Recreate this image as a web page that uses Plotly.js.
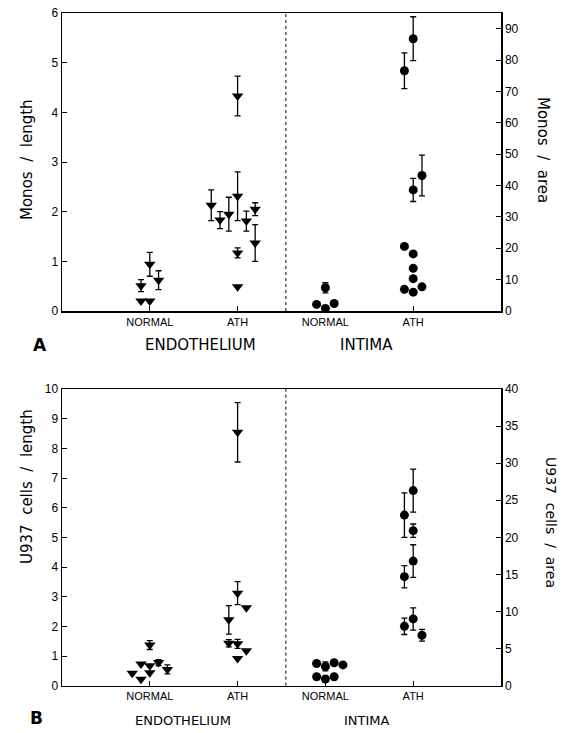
<!DOCTYPE html>
<html>
<head>
<meta charset="utf-8">
<script src="https://cdn.plot.ly/plotly-3.0.1.min.js"></script>
<style>html,body{margin:0;padding:0;background:#fff;}#chart{width:563px;height:733px;}</style>
</head>
<body>
<div id="chart"></div>
<script>
// ---- Category ticks ----
const tickPositions = [1, 2, 3, 4];
const tickLabels = ['NORMAL', 'ATH', 'NORMAL', 'ATH'];

// ---- Panel A: Monocytes, endothelium (Monos / length) ----
const endoA_x   = [0.9, 1.0, 1.1, 0.9, 1.0, 1.7, 1.8, 1.9, 2.0, 2.0, 2.0, 2.0, 2.1, 2.2, 2.2];
const endoA_y   = [0.51, 0.94, 0.62, 0.20, 0.20, 2.13, 1.83, 1.95, 2.31, 4.33, 1.17, 0.49, 1.81, 2.05, 1.37];
const endoA_err = [0.12, 0.24, 0.19, 0, 0, 0.31, 0.17, 0.34, 0.49, 0.40, 0.10, 0, 0.20, 0.13, 0.37];

// ---- Panel A: Monocytes, intima (Monos / area) ----
const intA_x   = [3.0, 2.9, 3.0, 3.1, 3.9, 4.0, 4.0, 4.1, 3.9, 4.0, 4.0, 4.0, 3.9, 4.0, 4.1];
const intA_y   = [7.4, 2.1, 0.8, 2.4, 76.6, 86.8, 38.6, 43.2, 20.6, 18.2, 13.6, 10.3, 6.9, 6.0, 7.7];
const intA_err = [1.6, 0, 0, 0, 5.7, 7.0, 3.7, 6.5, 0, 0, 0, 0, 0, 0, 0];

// ---- Panel B: U937 cells, endothelium (U937 cells / length) ----
const endoB_x   = [1.0, 0.9, 1.0, 1.1, 1.2, 0.8, 0.9, 1.0, 2.0, 2.0, 2.1, 1.9, 1.9, 2.0, 2.1, 2.0];
const endoB_y   = [1.37, 0.73, 0.67, 0.78, 0.55, 0.42, 0.22, 0.44, 8.54, 3.12, 2.63, 2.22, 1.43, 1.41, 1.18, 0.92];
const endoB_err = [0.15, 0, 0, 0.10, 0.15, 0, 0, 0, 1.0, 0.39, 0, 0.48, 0.12, 0.15, 0, 0];

// ---- Panel B: U937 cells, intima (U937 cells / area) ----
const intB_x   = [2.9, 3.0, 3.1, 3.2, 2.9, 3.0, 3.1, 3.9, 4.0, 4.0, 3.9, 4.0, 3.9, 4.0, 4.1];
const intB_y   = [3.0, 2.6, 3.1, 2.8, 1.2, 0.9, 1.2, 23.0, 26.3, 20.9, 14.7, 16.8, 8.0, 9.0, 6.8];
const intB_err = [0, 0.6, 0, 0, 0, 0, 0, 3.0, 2.9, 0.9, 1.5, 2.2, 1.1, 1.5, 0.8];

const W = 563, H = 733;
const px = v => v / W;
const py = v => 1 - v / H;

const errStyle = arr => ({type: 'data', array: arr, visible: true, color: '#000', thickness: 1.3, width: 3});

const traces = [
  {x: endoA_x, y: endoA_y, error_y: errStyle(endoA_err), xaxis: 'x', yaxis: 'y', mode: 'markers', type: 'scatter',
   marker: {symbol: 'triangle-down', size: 10, color: '#000'}},
  {x: intA_x, y: intA_y, error_y: errStyle(intA_err), xaxis: 'x', yaxis: 'y2', mode: 'markers', type: 'scatter',
   marker: {symbol: 'circle', size: 9, color: '#000'}},
  {x: endoB_x, y: endoB_y, error_y: errStyle(endoB_err), xaxis: 'x2', yaxis: 'y3', mode: 'markers', type: 'scatter',
   marker: {symbol: 'triangle-down', size: 10, color: '#000'}},
  {x: intB_x, y: intB_y, error_y: errStyle(intB_err), xaxis: 'x2', yaxis: 'y4', mode: 'markers', type: 'scatter',
   marker: {symbol: 'circle', size: 9, color: '#000'}}
];

const tickFont = {family: 'Liberation Sans, Arial, sans-serif', size: 12, color: '#000'};
const catFont = {family: 'Liberation Sans, Arial, sans-serif', size: 11, color: '#000'};
const xDom = [px(62), px(501)];
const axBase = {showline: true, linecolor: '#000', linewidth: 1.5, ticks: 'inside', ticklen: 5, tickcolor: '#000',
  showgrid: false, zeroline: false, fixedrange: true};

const ann = (text, x, y, size, angle) => ({
  text: text, x: px(x), y: py(y), xref: 'paper', yref: 'paper', xanchor: 'center', yanchor: 'middle',
  textangle: angle || 0, showarrow: false, font: {family: 'DejaVu Sans, sans-serif', size: size, color: '#000'}
});

const layout = {
  width: W, height: H,
  margin: {l: 0, r: 0, t: 0, b: 0},
  paper_bgcolor: '#fff', plot_bgcolor: '#fff',
  showlegend: false,
  xaxis: Object.assign({}, axBase, {domain: xDom, anchor: 'y', range: [0, 5], tickvals: tickPositions, ticktext: tickLabels,
    tickfont: catFont, mirror: true}),
  yaxis: Object.assign({}, axBase, {domain: [py(311), py(13)], anchor: 'x', range: [0, 6], dtick: 1, tickfont: tickFont}),
  yaxis2: Object.assign({}, axBase, {overlaying: 'y', side: 'right', anchor: 'x', range: [0, 95],
    tickvals: [0, 10, 20, 30, 40, 50, 60, 70, 80, 90], tickfont: tickFont}),
  xaxis2: Object.assign({}, axBase, {domain: xDom, anchor: 'y3', range: [0, 5], tickvals: tickPositions, ticktext: tickLabels,
    tickfont: catFont, mirror: true}),
  yaxis3: Object.assign({}, axBase, {domain: [py(685.7), py(389)], anchor: 'x2', range: [0, 10], dtick: 1, tickfont: tickFont}),
  yaxis4: Object.assign({}, axBase, {overlaying: 'y3', side: 'right', anchor: 'x2', range: [0, 40], dtick: 5, tickfont: tickFont}),
  shapes: [
    {type: 'line', xref: 'x', yref: 'y domain', x0: 2.55, x1: 2.55, y0: 0, y1: 1, line: {color: '#000', width: 1, dash: 'dot'}},
    {type: 'line', xref: 'x2', yref: 'y3 domain', x0: 2.55, x1: 2.55, y0: 0, y1: 1, line: {color: '#000', width: 1, dash: 'dot'}}
  ],
  annotations: [
    ann('Monos\u00a0 /\u00a0 length', 27, 160, 15, -90),
    ann('Monos\u00a0 /\u00a0 area', 543, 150, 15, 90),
    ann('U937\u00a0 cells\u00a0 /\u00a0 length', 27, 487, 15, -90),
    ann('U937\u00a0 cells\u00a0 /\u00a0 area', 551, 522, 14, 90),
    ann('<b>A</b>', 40, 345, 17),
    ann('ENDOTHELIUM', 200, 345, 15),
    ann('INTIMA', 366, 345, 15),
    ann('<b>B</b>', 36, 718, 17),
    ann('ENDOTHELIUM', 183, 720, 13),
    ann('INTIMA', 367, 720, 13)
  ]
};

Plotly.newPlot('chart', traces, layout, {displayModeBar: false, staticPlot: true});
</script>
</body>
</html>
